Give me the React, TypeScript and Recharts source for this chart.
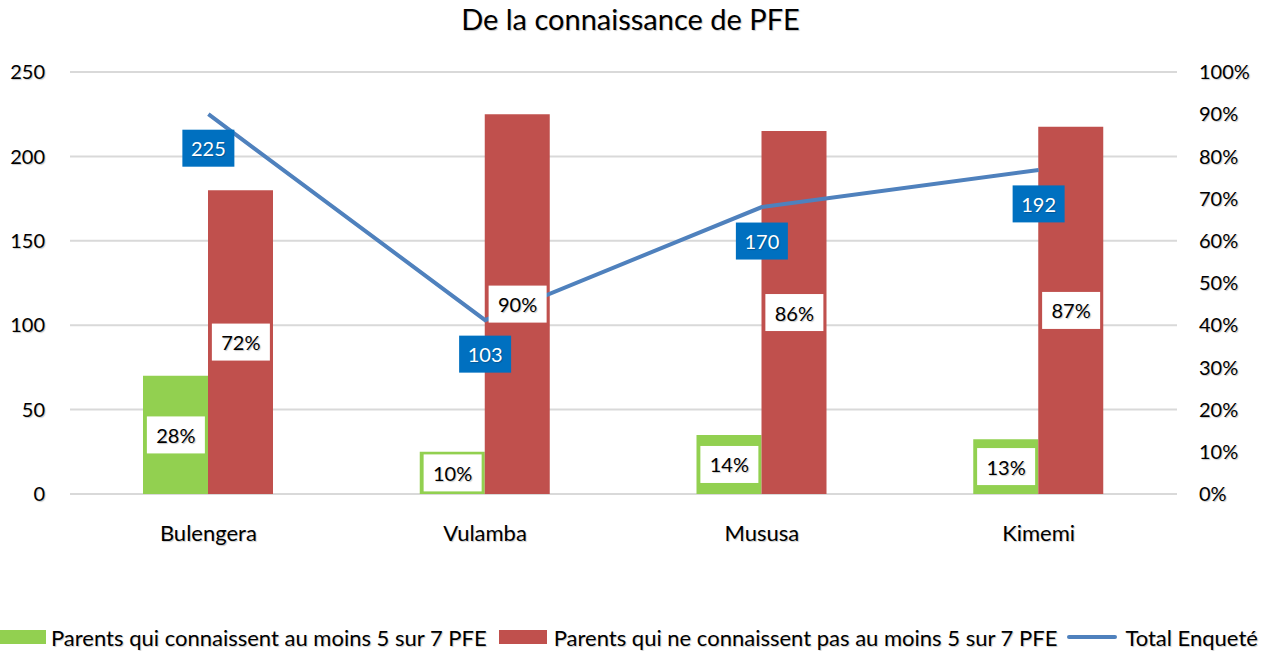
import React from 'react';
import { ComposedChart, Bar, Line, XAxis, YAxis, CartesianGrid, Legend, LabelList } from 'recharts';

const categories = ['Bulengera', 'Vulamba', 'Mususa', 'Kimemi'];
const knowPct = [0.28, 0.1, 0.14, 0.13];
const notKnowPct = [0.72, 0.9, 0.86, 0.87];
const totalSurveyed = [225, 103, 170, 192];
const leftTicks = [0, 50, 100, 150, 200, 250];
const rightTicks = [0, 0.1, 0.2, 0.3, 0.4, 0.5, 0.6, 0.7, 0.8, 0.9, 1];
const seriesNames = [
  'Parents qui connaissent au moins 5 sur 7 PFE',
  'Parents qui ne connaissent pas au moins 5 sur 7 PFE',
  'Total Enqueté',
];
const title = 'De la connaissance de PFE';

const data = categories.map((c, i) => ({
  name: c,
  know: knowPct[i],
  notKnow: notKnowPct[i],
  total: totalSurveyed[i],
  knowMid: knowPct[i] / 2,
  notKnowMid: notKnowPct[i] / 2,
}));

const W = 1263;
const H = 651;
const FONT = 'Lato, sans-serif';
const GREEN = '#92d050';
const RED = '#c0504d';
const LINE = '#4f81bd';
const LABEL_BLUE = '#0070c0';
const BAR_W = 65;
const SHADOW = '1px 1px 1px rgba(0,0,0,0.22)';

const pct = (v: number) => `${Math.round(v * 100)}%`;

const makeBarLabel = (dx: number) => (props: any) => {
  const { x, y, value } = props;
  if (x == null || y == null) return null;
  const cx = x + dx;
  const w = 58;
  const h = 37;
  return (
    <g>
      <rect x={cx - w / 2} y={y - h / 2} width={w} height={h} fill="#ffffff" />
      <text x={cx} y={y} textAnchor="middle" dominantBaseline="central" fontFamily={FONT} fontSize={20} fill="#000" style={{ textShadow: SHADOW }}>
        {pct(value)}
      </text>
    </g>
  );
};

const TotalLabel = (props: any) => {
  const { x, y, value } = props;
  if (x == null || y == null) return null;
  const w = 52;
  const h = 37;
  const cy = y + 34;
  return (
    <g>
      <rect x={x - w / 2} y={cy - h / 2} width={w} height={h} fill={LABEL_BLUE} />
      <text x={x} y={cy} textAnchor="middle" dominantBaseline="central" fontFamily={FONT} fontSize={20} fill="#fff" style={{ textShadow: SHADOW }}>
        {value}
      </text>
    </g>
  );
};

const LegendContent = () => (
  <div style={{ display: 'flex', alignItems: 'center', height: 28, whiteSpace: 'nowrap', overflow: 'hidden', width: W, fontFamily: FONT, fontSize: 22, color: '#000', textShadow: SHADOW }}>
    <span style={{ display: 'inline-block', flex: 'none', width: 46, height: 14, background: GREEN, marginRight: 5 }} />
    <span style={{ marginRight: 12 }}>{seriesNames[0]}</span>
    <span style={{ display: 'inline-block', flex: 'none', width: 48, height: 14, background: RED, marginRight: 7 }} />
    <span style={{ marginRight: 10 }}>{seriesNames[1]}</span>
    <span style={{ display: 'inline-block', flex: 'none', width: 50, height: 4, background: LINE, borderRadius: 2, marginRight: 8 }} />
    <span>{seriesNames[2]}</span>
  </div>
);

export default function App() {
  return (
    <div style={{ position: 'absolute', left: 0, top: 0, width: W, height: H, background: '#fff' }}>
      <div style={{ position: 'absolute', left: 0, top: 1, width: W - 2, textAlign: 'center', fontFamily: FONT, fontSize: 29, color: '#000', textShadow: SHADOW }}>
        {title}
      </div>
      <ComposedChart width={W} height={H} data={data} margin={{ top: 72, right: 0, left: 0, bottom: 0 }} barGap={0} barSize={BAR_W}>
        <CartesianGrid yAxisId="left" vertical={false} stroke="#d9d9d9" strokeWidth={2} />
        <XAxis dataKey="name" height={129} axisLine={false} tickLine={false} tickMargin={25}
          tick={{ fontFamily: FONT, fontSize: 22, fill: '#000', style: { textShadow: SHADOW } }} />
        <YAxis yAxisId="left" orientation="left" width={70} domain={[0, 250]} ticks={leftTicks} axisLine={false} tickLine={false} tickMargin={19}
          tick={{ fontFamily: FONT, fontSize: 20, fill: '#000', style: { textShadow: SHADOW } }} />
        <YAxis yAxisId="right" orientation="right" width={86} domain={[0, 1]} ticks={rightTicks} axisLine={false} tickLine={false} tickMargin={16}
          tickFormatter={pct} tick={{ fontFamily: FONT, fontSize: 20, fill: '#000', style: { textShadow: SHADOW } }} />
        <Bar yAxisId="right" dataKey="know" fill={GREEN} isAnimationActive={false} />
        <Bar yAxisId="right" dataKey="notKnow" fill={RED} isAnimationActive={false} />
        <Line yAxisId="left" dataKey="total" stroke={LINE} strokeWidth={4} dot={false} activeDot={false} isAnimationActive={false}>
          <LabelList dataKey="total" content={TotalLabel} />
        </Line>
        <Line yAxisId="right" dataKey="knowMid" stroke="none" dot={false} activeDot={false} legendType="none" isAnimationActive={false}>
          <LabelList dataKey="know" content={makeBarLabel(-BAR_W / 2)} />
        </Line>
        <Line yAxisId="right" dataKey="notKnowMid" stroke="none" dot={false} activeDot={false} legendType="none" isAnimationActive={false}>
          <LabelList dataKey="notKnow" content={makeBarLabel(BAR_W / 2)} />
        </Line>
        <Legend verticalAlign="bottom" align="left" wrapperStyle={{ left: 0, bottom: 0, width: W }} content={LegendContent} />
      </ComposedChart>
    </div>
  );
}
